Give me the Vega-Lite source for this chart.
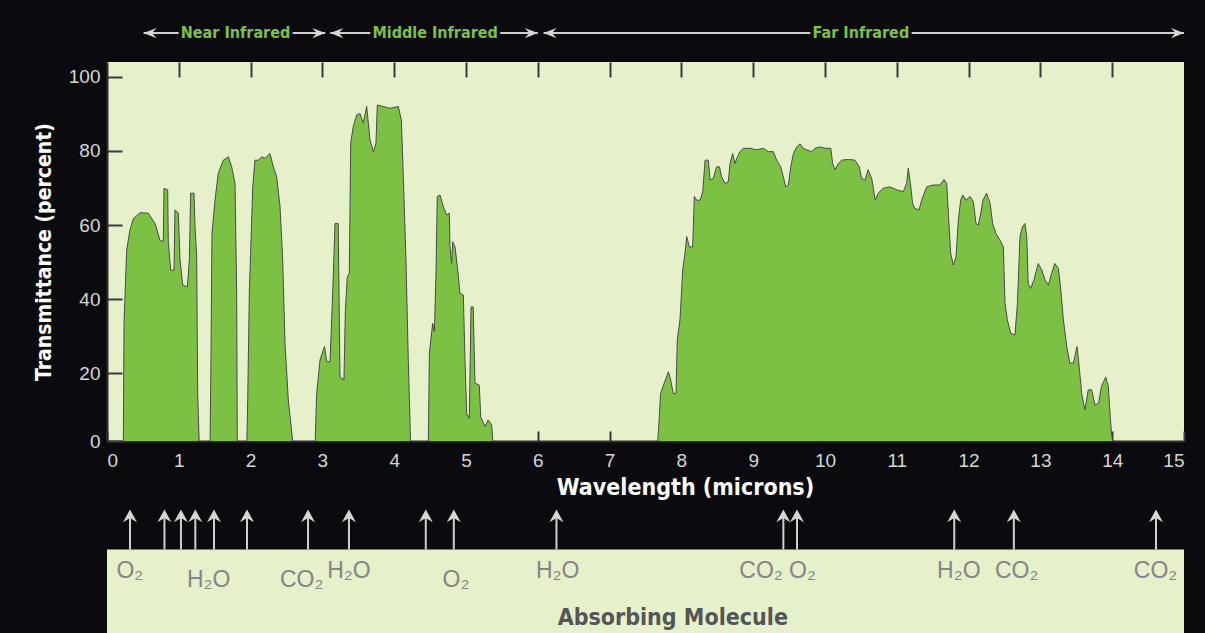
{
  "$schema": "https://vega.github.io/schema/vega-lite/v6.json",
  "width": 1077,
  "height": 379,
  "autosize": {"type": "none"},
  "padding": {"left": 107, "top": 62, "right": 21, "bottom": 192},
  "background": "#0b0a0f",
  "config": {"view": {"fill": "#e6f0cb", "stroke": null}, "axis": {"grid": false}},
  "datasets": {
    "spectrum": [
      {"wavelength": 0, "transmittance": 0},
      {"wavelength": 0.227, "transmittance": 0},
      {"wavelength": 0.237, "transmittance": 33.5},
      {"wavelength": 0.274, "transmittance": 53.3},
      {"wavelength": 0.32, "transmittance": 58.7},
      {"wavelength": 0.366, "transmittance": 61.7},
      {"wavelength": 0.46, "transmittance": 63.3},
      {"wavelength": 0.575, "transmittance": 63.2},
      {"wavelength": 0.669, "transmittance": 60.4},
      {"wavelength": 0.738, "transmittance": 55.9},
      {"wavelength": 0.784, "transmittance": 55.5},
      {"wavelength": 0.794, "transmittance": 69.9},
      {"wavelength": 0.845, "transmittance": 69.5},
      {"wavelength": 0.854, "transmittance": 55.5},
      {"wavelength": 0.887, "transmittance": 47.8},
      {"wavelength": 0.933, "transmittance": 47.8},
      {"wavelength": 0.947, "transmittance": 64.1},
      {"wavelength": 0.993, "transmittance": 63.2},
      {"wavelength": 1.017, "transmittance": 50.6},
      {"wavelength": 1.054, "transmittance": 43.8},
      {"wavelength": 1.119, "transmittance": 43.3},
      {"wavelength": 1.147, "transmittance": 50.6},
      {"wavelength": 1.165, "transmittance": 68.6},
      {"wavelength": 1.212, "transmittance": 68.6},
      {"wavelength": 1.226, "transmittance": 59.5},
      {"wavelength": 1.249, "transmittance": 51.5},
      {"wavelength": 1.263, "transmittance": 14.5},
      {"wavelength": 1.286, "transmittance": 0},
      {"wavelength": 1.435, "transmittance": 0},
      {"wavelength": 1.448, "transmittance": 23.6},
      {"wavelength": 1.462, "transmittance": 57.7},
      {"wavelength": 1.504, "transmittance": 66.7},
      {"wavelength": 1.55, "transmittance": 74},
      {"wavelength": 1.62, "transmittance": 77.5},
      {"wavelength": 1.69, "transmittance": 78.4},
      {"wavelength": 1.737, "transmittance": 75.7},
      {"wavelength": 1.783, "transmittance": 71.2},
      {"wavelength": 1.806, "transmittance": 41.6},
      {"wavelength": 1.815, "transmittance": 0},
      {"wavelength": 1.946, "transmittance": 0},
      {"wavelength": 1.96, "transmittance": 12.8},
      {"wavelength": 1.982, "transmittance": 41.6},
      {"wavelength": 2.0, "transmittance": 52.4},
      {"wavelength": 2.03, "transmittance": 70.3},
      {"wavelength": 2.06, "transmittance": 77.5},
      {"wavelength": 2.107, "transmittance": 77.5},
      {"wavelength": 2.155, "transmittance": 78.4},
      {"wavelength": 2.2, "transmittance": 78},
      {"wavelength": 2.27, "transmittance": 79.3},
      {"wavelength": 2.316, "transmittance": 75.7},
      {"wavelength": 2.363, "transmittance": 73},
      {"wavelength": 2.41, "transmittance": 64.9},
      {"wavelength": 2.447, "transmittance": 50.6},
      {"wavelength": 2.479, "transmittance": 28.1},
      {"wavelength": 2.525, "transmittance": 12.8},
      {"wavelength": 2.595, "transmittance": 0},
      {"wavelength": 2.897, "transmittance": 0},
      {"wavelength": 2.92, "transmittance": 14.5},
      {"wavelength": 2.967, "transmittance": 23.6},
      {"wavelength": 3.012, "transmittance": 26.2},
      {"wavelength": 3.03, "transmittance": 27.2},
      {"wavelength": 3.06, "transmittance": 23.1},
      {"wavelength": 3.106, "transmittance": 23.1},
      {"wavelength": 3.14, "transmittance": 39.8},
      {"wavelength": 3.176, "transmittance": 60.4},
      {"wavelength": 3.22, "transmittance": 60.4},
      {"wavelength": 3.245, "transmittance": 19},
      {"wavelength": 3.3, "transmittance": 18.2},
      {"wavelength": 3.32, "transmittance": 37},
      {"wavelength": 3.347, "transmittance": 46.1},
      {"wavelength": 3.375, "transmittance": 47},
      {"wavelength": 3.394, "transmittance": 82.1},
      {"wavelength": 3.43, "transmittance": 86.6},
      {"wavelength": 3.478, "transmittance": 89.7},
      {"wavelength": 3.524, "transmittance": 90.1},
      {"wavelength": 3.57, "transmittance": 87.5},
      {"wavelength": 3.617, "transmittance": 92},
      {"wavelength": 3.663, "transmittance": 82.9},
      {"wavelength": 3.71, "transmittance": 79.8},
      {"wavelength": 3.746, "transmittance": 82.1},
      {"wavelength": 3.765, "transmittance": 92.4},
      {"wavelength": 3.848, "transmittance": 92},
      {"wavelength": 3.94, "transmittance": 91.5},
      {"wavelength": 4.057, "transmittance": 92},
      {"wavelength": 4.1, "transmittance": 88.3},
      {"wavelength": 4.127, "transmittance": 73},
      {"wavelength": 4.164, "transmittance": 50.6},
      {"wavelength": 4.196, "transmittance": 23.6},
      {"wavelength": 4.23, "transmittance": 0},
      {"wavelength": 4.475, "transmittance": 0},
      {"wavelength": 4.49, "transmittance": 25.4},
      {"wavelength": 4.536, "transmittance": 33.5},
      {"wavelength": 4.56, "transmittance": 31.2},
      {"wavelength": 4.582, "transmittance": 47},
      {"wavelength": 4.6, "transmittance": 67.7},
      {"wavelength": 4.638, "transmittance": 68.1},
      {"wavelength": 4.685, "transmittance": 64.9},
      {"wavelength": 4.73, "transmittance": 62.7},
      {"wavelength": 4.768, "transmittance": 63.2},
      {"wavelength": 4.777, "transmittance": 54.1},
      {"wavelength": 4.8, "transmittance": 49.6},
      {"wavelength": 4.815, "transmittance": 55.5},
      {"wavelength": 4.847, "transmittance": 54.1},
      {"wavelength": 4.88, "transmittance": 48.7},
      {"wavelength": 4.916, "transmittance": 41.6},
      {"wavelength": 4.963, "transmittance": 41.1},
      {"wavelength": 4.986, "transmittance": 23.6},
      {"wavelength": 5.01, "transmittance": 9.1},
      {"wavelength": 5.046, "transmittance": 7.8},
      {"wavelength": 5.07, "transmittance": 37.9},
      {"wavelength": 5.1, "transmittance": 37.9},
      {"wavelength": 5.125, "transmittance": 17.3},
      {"wavelength": 5.185, "transmittance": 16.8},
      {"wavelength": 5.205, "transmittance": 8.2},
      {"wavelength": 5.265, "transmittance": 5.6},
      {"wavelength": 5.31, "transmittance": 7.4},
      {"wavelength": 5.358, "transmittance": 6},
      {"wavelength": 5.38, "transmittance": 0},
      {"wavelength": 7.665, "transmittance": 0},
      {"wavelength": 7.69, "transmittance": 7.4},
      {"wavelength": 7.71, "transmittance": 14.5},
      {"wavelength": 7.76, "transmittance": 17.3},
      {"wavelength": 7.82, "transmittance": 20.4},
      {"wavelength": 7.85, "transmittance": 18.2},
      {"wavelength": 7.887, "transmittance": 14.5},
      {"wavelength": 7.925, "transmittance": 14.5},
      {"wavelength": 7.943, "transmittance": 29},
      {"wavelength": 7.98, "transmittance": 34.4},
      {"wavelength": 8.018, "transmittance": 47.8},
      {"wavelength": 8.05, "transmittance": 52.4},
      {"wavelength": 8.074, "transmittance": 56.9},
      {"wavelength": 8.11, "transmittance": 54.1},
      {"wavelength": 8.157, "transmittance": 54.1},
      {"wavelength": 8.18, "transmittance": 67.7},
      {"wavelength": 8.213, "transmittance": 66.7},
      {"wavelength": 8.26, "transmittance": 66.7},
      {"wavelength": 8.297, "transmittance": 69},
      {"wavelength": 8.33, "transmittance": 77.5},
      {"wavelength": 8.375, "transmittance": 77.5},
      {"wavelength": 8.4, "transmittance": 72.1},
      {"wavelength": 8.444, "transmittance": 72.6},
      {"wavelength": 8.49, "transmittance": 75.7},
      {"wavelength": 8.53, "transmittance": 75.7},
      {"wavelength": 8.56, "transmittance": 73},
      {"wavelength": 8.607, "transmittance": 71.2},
      {"wavelength": 8.653, "transmittance": 71.7},
      {"wavelength": 8.677, "transmittance": 76.6},
      {"wavelength": 8.714, "transmittance": 79.3},
      {"wavelength": 8.746, "transmittance": 76.6},
      {"wavelength": 8.78, "transmittance": 78.4},
      {"wavelength": 8.816, "transmittance": 79.8},
      {"wavelength": 8.862, "transmittance": 80.7},
      {"wavelength": 8.955, "transmittance": 80.7},
      {"wavelength": 9.05, "transmittance": 80.3},
      {"wavelength": 9.14, "transmittance": 80.7},
      {"wavelength": 9.21, "transmittance": 79.8},
      {"wavelength": 9.28, "transmittance": 79.8},
      {"wavelength": 9.327, "transmittance": 77.5},
      {"wavelength": 9.383, "transmittance": 75.7},
      {"wavelength": 9.42, "transmittance": 73},
      {"wavelength": 9.453, "transmittance": 70.3},
      {"wavelength": 9.49, "transmittance": 70.8},
      {"wavelength": 9.523, "transmittance": 75.7},
      {"wavelength": 9.56, "transmittance": 79.3},
      {"wavelength": 9.606, "transmittance": 81.1},
      {"wavelength": 9.652, "transmittance": 81.9},
      {"wavelength": 9.698, "transmittance": 80.7},
      {"wavelength": 9.745, "transmittance": 80.3},
      {"wavelength": 9.815, "transmittance": 79.8},
      {"wavelength": 9.86, "transmittance": 80.7},
      {"wavelength": 9.93, "transmittance": 81.1},
      {"wavelength": 10.0, "transmittance": 80.7},
      {"wavelength": 10.08, "transmittance": 80.7},
      {"wavelength": 10.107, "transmittance": 76.6},
      {"wavelength": 10.14, "transmittance": 74.9},
      {"wavelength": 10.185, "transmittance": 76.6},
      {"wavelength": 10.23, "transmittance": 77.5},
      {"wavelength": 10.325, "transmittance": 77.7},
      {"wavelength": 10.418, "transmittance": 77.5},
      {"wavelength": 10.478, "transmittance": 75.7},
      {"wavelength": 10.51, "transmittance": 72.6},
      {"wavelength": 10.557, "transmittance": 72.1},
      {"wavelength": 10.6, "transmittance": 74.9},
      {"wavelength": 10.65, "transmittance": 72.6},
      {"wavelength": 10.7, "transmittance": 66.7},
      {"wavelength": 10.74, "transmittance": 68.6},
      {"wavelength": 10.81, "transmittance": 69.9},
      {"wavelength": 10.905, "transmittance": 70.3},
      {"wavelength": 11.0, "transmittance": 69.5},
      {"wavelength": 11.09, "transmittance": 69},
      {"wavelength": 11.137, "transmittance": 71.2},
      {"wavelength": 11.16, "transmittance": 75.3},
      {"wavelength": 11.19, "transmittance": 71.2},
      {"wavelength": 11.22, "transmittance": 65.8},
      {"wavelength": 11.25, "transmittance": 64.5},
      {"wavelength": 11.31, "transmittance": 64.1},
      {"wavelength": 11.346, "transmittance": 66.7},
      {"wavelength": 11.416, "transmittance": 70.3},
      {"wavelength": 11.51, "transmittance": 70.8},
      {"wavelength": 11.6, "transmittance": 70.8},
      {"wavelength": 11.657, "transmittance": 72.3},
      {"wavelength": 11.695, "transmittance": 71.2},
      {"wavelength": 11.718, "transmittance": 63.2},
      {"wavelength": 11.75, "transmittance": 52.4},
      {"wavelength": 11.787, "transmittance": 49.2},
      {"wavelength": 11.825, "transmittance": 51.5},
      {"wavelength": 11.857, "transmittance": 61.3},
      {"wavelength": 11.89, "transmittance": 66.7},
      {"wavelength": 11.918, "transmittance": 68.1},
      {"wavelength": 11.964, "transmittance": 66.7},
      {"wavelength": 12.02, "transmittance": 67.7},
      {"wavelength": 12.066, "transmittance": 66.3},
      {"wavelength": 12.103, "transmittance": 60.4},
      {"wavelength": 12.135, "transmittance": 60},
      {"wavelength": 12.17, "transmittance": 63.2},
      {"wavelength": 12.2, "transmittance": 66.7},
      {"wavelength": 12.25, "transmittance": 68.6},
      {"wavelength": 12.3, "transmittance": 65.8},
      {"wavelength": 12.335, "transmittance": 60.4},
      {"wavelength": 12.38, "transmittance": 57.7},
      {"wavelength": 12.437, "transmittance": 55.9},
      {"wavelength": 12.484, "transmittance": 54.1},
      {"wavelength": 12.507, "transmittance": 38.9},
      {"wavelength": 12.54, "transmittance": 34.4},
      {"wavelength": 12.586, "transmittance": 30.8},
      {"wavelength": 12.646, "transmittance": 30.3},
      {"wavelength": 12.68, "transmittance": 38.9},
      {"wavelength": 12.716, "transmittance": 56.9},
      {"wavelength": 12.75, "transmittance": 59.5},
      {"wavelength": 12.785, "transmittance": 60.4},
      {"wavelength": 12.81, "transmittance": 56.9},
      {"wavelength": 12.83, "transmittance": 44.2},
      {"wavelength": 12.865, "transmittance": 42.9},
      {"wavelength": 12.91, "transmittance": 45.2},
      {"wavelength": 12.97, "transmittance": 49.6},
      {"wavelength": 13.02, "transmittance": 47.8},
      {"wavelength": 13.064, "transmittance": 45.2},
      {"wavelength": 13.11, "transmittance": 43.8},
      {"wavelength": 13.157, "transmittance": 47},
      {"wavelength": 13.2, "transmittance": 49.6},
      {"wavelength": 13.25, "transmittance": 48.3},
      {"wavelength": 13.28, "transmittance": 43.3},
      {"wavelength": 13.32, "transmittance": 34.4},
      {"wavelength": 13.367, "transmittance": 27.2},
      {"wavelength": 13.41, "transmittance": 22.7},
      {"wavelength": 13.46, "transmittance": 22.7},
      {"wavelength": 13.51, "transmittance": 27.2},
      {"wavelength": 13.54, "transmittance": 21.8},
      {"wavelength": 13.575, "transmittance": 14.5},
      {"wavelength": 13.62, "transmittance": 10.1},
      {"wavelength": 13.667, "transmittance": 15.5},
      {"wavelength": 13.714, "transmittance": 15.5},
      {"wavelength": 13.76, "transmittance": 11.4},
      {"wavelength": 13.81, "transmittance": 11.9},
      {"wavelength": 13.85, "transmittance": 16.4},
      {"wavelength": 13.91, "transmittance": 19},
      {"wavelength": 13.946, "transmittance": 16.4},
      {"wavelength": 13.97, "transmittance": 9.1},
      {"wavelength": 13.99, "transmittance": 3.8},
      {"wavelength": 14.02, "transmittance": 0},
      {"wavelength": 15, "transmittance": 0}
    ],
    "bands": [
      {"band": "Near Infrared", "from": 0.51, "to": 3.04, "center": 1.79},
      {"band": "Middle Infrared", "from": 3.11, "to": 6.0, "center": 4.57},
      {"band": "Far Infrared", "from": 6.08, "to": 15.0, "center": 10.5}
    ],
    "absorbers": [
      {"wavelength": 0.32, "molecule": "O₂"},
      {"wavelength": 0.8, "molecule": "H₂O"},
      {"wavelength": 1.03, "molecule": "H₂O"},
      {"wavelength": 1.23, "molecule": "H₂O"},
      {"wavelength": 1.49, "molecule": "H₂O"},
      {"wavelength": 1.95, "molecule": "H₂O"},
      {"wavelength": 2.8, "molecule": "CO₂"},
      {"wavelength": 3.37, "molecule": "H₂O"},
      {"wavelength": 4.44, "molecule": "CO₂"},
      {"wavelength": 4.83, "molecule": "O₂"},
      {"wavelength": 6.26, "molecule": "H₂O"},
      {"wavelength": 9.42, "molecule": "CO₂"},
      {"wavelength": 9.61, "molecule": "O₂"},
      {"wavelength": 11.8, "molecule": "H₂O"},
      {"wavelength": 12.63, "molecule": "CO₂"},
      {"wavelength": 14.61, "molecule": "CO₂"}
    ],
    "labels": [
      {"label": "O₂", "position": 0.318, "tier": 1},
      {"label": "H₂O", "position": 1.416, "tier": 2},
      {"label": "CO₂", "position": 2.712, "tier": 2},
      {"label": "H₂O", "position": 3.37, "tier": 1},
      {"label": "O₂", "position": 4.861, "tier": 2},
      {"label": "H₂O", "position": 6.277, "tier": 1},
      {"label": "CO₂", "position": 9.109, "tier": 1},
      {"label": "O₂", "position": 9.687, "tier": 1},
      {"label": "H₂O", "position": 11.864, "tier": 1},
      {"label": "CO₂", "position": 12.67, "tier": 1},
      {"label": "CO₂", "position": 14.604, "tier": 1}
    ]
  },
  "resolve": {"axis": {"x": "independent", "y": "independent"}},
  "layer": [
    {
      "data": {"name": "spectrum"},
      "mark": {"type": "area", "fill": "#7cc143", "stroke": "#4a4a4a", "strokeWidth": 1, "clip": true},
      "encoding": {
        "x": {
          "field": "wavelength", "type": "quantitative",
          "scale": {"domain": [0, 15], "nice": false, "zero": false},
          "axis": {
            "orient": "bottom", "values": [0,1,2,3,4,5,6,7,8,9,10,11,12,13,14,15],
            "tickSize": -10, "tickColor": "#3a3a3a", "tickWidth": 2,
            "labelPadding": 20, "labelFontSize": 19, "labelColor": "#d6d6d6", "labelFont": "Liberation Sans",
            "labelFlush": true, "labelOverlap": false,
            "domainColor": "#2e2e2e", "domainWidth": 2,
            "title": "Wavelength (microns)", "titleFont": "'DejaVu Sans Condensed', 'Liberation Sans Narrow', 'DejaVu Sans'",
            "titleFontSize": 23, "titleFontWeight": "bold", "titleColor": "#ffffff", "titlePadding": 6, "titleX": 578
          }
        },
        "y": {
          "field": "transmittance", "type": "quantitative",
          "scale": {"domain": [1.7, 104], "nice": false, "zero": false},
          "axis": {
            "orient": "left", "values": [1.7, 20, 40, 60, 80, 100],
            "labelExpr": "datum.value < 2 ? '0' : datum.label",
            "tickSize": -15, "tickColor": "#3a3a3a", "tickWidth": 2,
            "labelPadding": 22, "labelFontSize": 19, "labelColor": "#d6d6d6", "labelFont": "Liberation Sans",
            "domainColor": "#2e2e2e", "domainWidth": 2,
            "title": "Transmittance (percent)", "titleFont": "'DejaVu Sans Condensed', 'Liberation Sans Narrow', 'DejaVu Sans'",
            "titleFontSize": 21, "titleFontWeight": "bold", "titleColor": "#ffffff", "titlePadding": 14
          }
        }
      }
    },
    {
      "data": {"name": "bands"},
      "mark": {"type": "rule", "color": "#cfcfcf", "strokeWidth": 2, "clip": false},
      "encoding": {
        "x": {
          "field": "from", "type": "quantitative",
          "axis": {"orient": "top", "labels": false, "domain": false, "values": [1,2,3,4,5,6,7,8,9,10,11,12,13,14], "tickSize": -15, "tickColor": "#3a3a3a", "tickWidth": 2, "title": null}
        },
        "x2": {"field": "to"},
        "y": {"datum": 111.8, "type": "quantitative", "axis": null}
      }
    },
    {
      "data": {"name": "bands"},
      "mark": {"type": "text", "fill": "#0b0a0f", "stroke": "#0b0a0f", "strokeWidth": 7, "font": "'DejaVu Sans Condensed', 'Liberation Sans Narrow', 'DejaVu Sans'", "fontSize": 16, "fontWeight": "bold", "align": "center", "baseline": "middle", "clip": false},
      "encoding": {
        "x": {"field": "center", "type": "quantitative", "axis": null},
        "y": {"datum": 111.8, "type": "quantitative", "axis": null},
        "text": {"field": "band"}
      }
    },
    {
      "data": {"name": "bands"},
      "mark": {"type": "text", "color": "#7cc143", "font": "'DejaVu Sans Condensed', 'Liberation Sans Narrow', 'DejaVu Sans'", "fontSize": 16, "fontWeight": "bold", "align": "center", "baseline": "middle", "clip": false},
      "encoding": {
        "x": {"field": "center", "type": "quantitative", "axis": null},
        "y": {"datum": 111.8, "type": "quantitative", "axis": null},
        "text": {"field": "band"}
      }
    },
    {
      "data": {"name": "bands"},
      "mark": {"type": "point", "shape": "M0,0L2,-0.8L1.3,0L2,0.8Z", "size": 169, "filled": true, "color": "#d6d6d6", "opacity": 1, "strokeWidth": 0, "clip": false},
      "encoding": {
        "x": {"field": "from", "type": "quantitative", "axis": null},
        "y": {"datum": 111.8, "type": "quantitative", "axis": null}
      }
    },
    {
      "data": {"name": "bands"},
      "mark": {"type": "point", "shape": "M0,0L-2,-0.8L-1.3,0L-2,0.8Z", "size": 169, "filled": true, "color": "#d6d6d6", "opacity": 1, "strokeWidth": 0, "clip": false},
      "encoding": {
        "x": {"field": "to", "type": "quantitative", "axis": null},
        "y": {"datum": 111.8, "type": "quantitative", "axis": null}
      }
    },
    {
      "data": {"values": [{}]},
      "mark": {"type": "rect", "color": "#e6f0cb", "clip": false},
      "encoding": {
        "x": {"datum": 0, "type": "quantitative", "axis": null},
        "x2": {"datum": 15},
        "y": {"datum": -27.6, "type": "quantitative", "axis": null},
        "y2": {"datum": -56}
      }
    },
    {
      "data": {"name": "absorbers"},
      "mark": {"type": "rule", "color": "#cfcfcf", "strokeWidth": 2, "clip": false},
      "encoding": {
        "x": {"field": "wavelength", "type": "quantitative", "axis": null},
        "y": {"datum": -27.6, "type": "quantitative", "axis": null},
        "y2": {"datum": -18}
      }
    },
    {
      "data": {"name": "absorbers"},
      "mark": {"type": "point", "shape": "M0,0L-1,1.8L0,1.2L1,1.8Z", "size": 196, "filled": true, "color": "#d6d6d6", "opacity": 1, "strokeWidth": 0, "clip": false},
      "encoding": {
        "x": {"field": "wavelength", "type": "quantitative", "axis": null},
        "y": {"datum": -16.8, "type": "quantitative", "axis": null}
      }
    },
    {
      "data": {"name": "labels"},
      "transform": [{"filter": "datum.tier == 1"}],
      "mark": {"type": "text", "color": "#858585", "font": "Liberation Sans", "fontSize": 23, "align": "center", "baseline": "middle", "clip": false},
      "encoding": {
        "x": {"field": "position", "type": "quantitative", "axis": null},
        "y": {"datum": -33.4, "type": "quantitative", "axis": null},
        "text": {"field": "label"}
      }
    },
    {
      "data": {"name": "labels"},
      "transform": [{"filter": "datum.tier == 2"}],
      "mark": {"type": "text", "color": "#858585", "font": "Liberation Sans", "fontSize": 23, "align": "center", "baseline": "middle", "clip": false},
      "encoding": {
        "x": {"field": "position", "type": "quantitative", "axis": null},
        "y": {"datum": -35.8, "type": "quantitative", "axis": null},
        "text": {"field": "label"}
      }
    },
    {
      "data": {"values": [{"caption": "Absorbing Molecule"}]},
      "mark": {"type": "text", "color": "#555555", "font": "'DejaVu Sans Condensed', 'Liberation Sans Narrow', 'DejaVu Sans'", "fontSize": 23, "fontWeight": "bold", "align": "center", "baseline": "middle", "clip": false},
      "encoding": {
        "x": {"datum": 7.88, "type": "quantitative", "axis": null},
        "y": {"datum": -46.1, "type": "quantitative", "axis": null},
        "text": {"field": "caption"}
      }
    }
  ]
}
